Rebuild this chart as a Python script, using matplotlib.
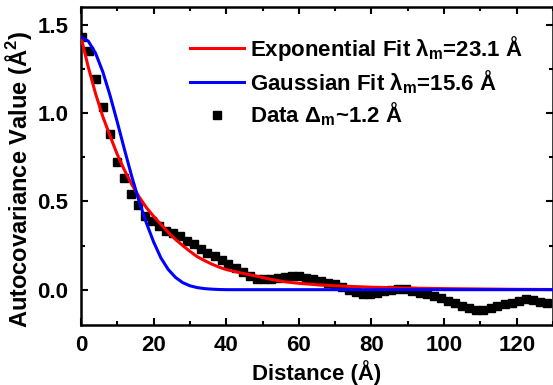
import matplotlib
matplotlib.use("Agg")
import matplotlib.pyplot as plt
from matplotlib.ticker import MultipleLocator

plt.rcParams['font.family'] = ['Liberation Sans', 'DejaVu Sans']
plt.rcParams['font.weight'] = 'bold'
plt.rcParams['mathtext.fontset'] = 'custom'
plt.rcParams['mathtext.rm'] = 'Liberation Sans:bold'
plt.rcParams['mathtext.it'] = 'Liberation Sans:bold'
plt.rcParams['mathtext.bf'] = 'Liberation Sans:bold'
plt.rcParams['mathtext.default'] = 'regular'

# measured autocovariance (distance in Angstrom)
data_x = [0.3, 2.2, 4.1, 6.0, 8.0, 9.9, 11.8, 13.7, 15.7, 17.5, 19.5, 21.4, 23.4,
          25.2, 27.2, 29.1, 31.1, 33.0, 34.8, 36.8, 38.7, 40.5, 42.6, 44.6, 46.5,
          48.4, 50.4, 52.3, 54.3, 56.2, 58.2, 60.1, 62.1, 64.0, 66.0, 67.9, 69.9,
          71.8, 73.8, 75.7, 77.7, 79.6, 81.6, 83.5, 85.5, 87.4, 89.4, 91.3, 93.3,
          95.2, 97.2, 99.1, 101.1, 103.0, 105.0, 106.9, 108.9, 110.8, 112.8, 114.7,
          116.7, 118.6, 120.6, 122.5, 124.5, 126.4, 128.4]
data_y = [1.43, 1.35, 1.195, 1.035, 0.88, 0.72, 0.63, 0.54, 0.48, 0.418, 0.39, 0.36, 0.33,
          0.32, 0.305, 0.278, 0.256, 0.23, 0.21, 0.19, 0.168, 0.145, 0.123, 0.10, 0.08,
          0.062, 0.058, 0.06, 0.066, 0.072, 0.078, 0.075, 0.068, 0.058, 0.05, 0.04, 0.03,
          0.015, 0.0, -0.015, -0.022, -0.024, -0.017, -0.008, 0.0, 0.006, 0.002, -0.01, -0.02,
          -0.027, -0.035, -0.048, -0.062, -0.078, -0.092, -0.105, -0.115, -0.115, -0.105, -0.093,
          -0.083, -0.073, -0.064, -0.055, -0.06, -0.068, -0.076]

# exponential fit curve
exp_x = [0, 2, 4, 6, 8, 10, 12, 14, 16, 18, 20, 22, 24, 26, 28, 30, 32, 34, 36, 38, 40,
         44, 48, 52, 56, 60, 65, 70, 75, 80, 90, 100, 110, 120, 130]
exp_y = [1.43, 1.26, 1.11, 0.98, 0.87, 0.765, 0.675, 0.595, 0.525, 0.465, 0.415, 0.37,
         0.325, 0.285, 0.25, 0.217, 0.187, 0.165, 0.145, 0.128, 0.114, 0.095, 0.078, 0.06,
         0.045, 0.036, 0.028, 0.022, 0.018, 0.014, 0.009, 0.006, 0.004, 0.002, 0.001]

# gaussian fit curve
gau_x = [0, 2, 4, 6, 8, 10, 12, 14, 16, 18, 20, 22, 24, 26, 28, 30, 32, 34, 36, 38, 40,
         50, 130]
gau_y = [1.43, 1.407, 1.339, 1.233, 1.099, 0.948, 0.791, 0.639, 0.50, 0.378, 0.27, 0.18,
         0.115, 0.07, 0.04, 0.022, 0.012, 0.006, 0.003, 0.001, 0.0, 0.0, 0.0]

fig = plt.figure(figsize=(5.53, 3.85), dpi=100)
ax = fig.add_axes([0.1465, 0.1558, 0.8535, 0.826])

ax.plot(data_x, data_y, 's', color='black', markersize=5.2, label='Data $\\Delta_m$~1.2 Å', zorder=2)
ax.plot(exp_x, exp_y, color='red', lw=2.2, label='Exponential Fit λ$_m$=23.1 Å', zorder=3)
ax.plot(gau_x, gau_y, color='blue', lw=2.2, label='Gaussian Fit λ$_m$=15.6 Å', zorder=3)

ax.set_xlim(0, 130)
ax.set_ylim(-0.2, 1.6)
ax.xaxis.set_major_locator(MultipleLocator(20))
ax.xaxis.set_minor_locator(MultipleLocator(10))
ax.yaxis.set_major_locator(MultipleLocator(0.5))
ax.yaxis.set_minor_locator(MultipleLocator(0.25))
ax.tick_params(which='both', direction='in', top=True, right=True, width=1.5, labelsize=16)
ax.tick_params(which='major', length=5)
ax.tick_params(which='minor', length=3)
ax.tick_params(axis='y', pad=9)
ax.tick_params(axis='x', pad=7)
for s in ax.spines.values():
    s.set_linewidth(1.8)

ax.set_xlabel('Distance (Å)', fontsize=16, fontweight='bold', labelpad=3)
ax.set_ylabel('Autocovariance Value (Å$^2$)', fontsize=17, fontweight='bold')
ax.yaxis.set_label_coords(-0.099, 0.459)

h, l = ax.get_legend_handles_labels()
order = [1, 2, 0]
ax.legend([h[i] for i in order], [l[i] for i in order], loc='upper left',
          bbox_to_anchor=(0.231, 0.915), frameon=False, fontsize=16, numpoints=1,
          handlelength=2.45, handletextpad=0.25, labelspacing=0.22,
          borderpad=0, borderaxespad=0)

fig.savefig('out.png', dpi=100)
